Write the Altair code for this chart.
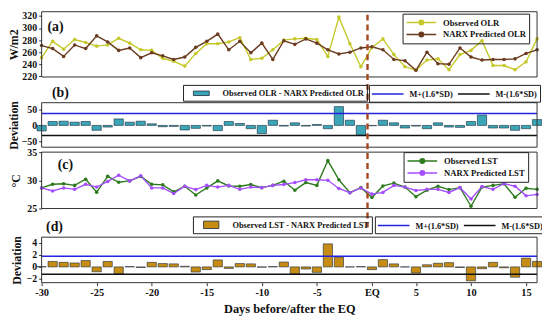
import altair as alt
import pandas as pd

# ---------------- data ----------------
idx = list(range(46))
tick_pos = [0, 5, 10, 15, 20, 25, 30, 34, 39, 44]
tick_lab = ["-30", "-25", "-20", "-15", "-10", "-5", "EQ", "5", "10", "15"]

obs_olr = [251, 278, 265, 281, 276, 270, 272, 283, 275, 264,
           263, 250, 245, 237, 258, 274, 274, 277, 284, 248,
           250, 264, 280, 282, 283, 281, 253, 318, 274, 236,
           268, 282, 256, 236, 230, 247, 249, 231, 256, 263,
           279, 238, 238, 231, 244, 282]
pred_olr = [271, 266, 253, 272, 266, 287, 277, 263, 267, 251,
            259, 254, 248, 252, 268, 278, 290, 264, 278, 259,
            275, 248, 279, 273, 282, 275, 264, 257, 260, 267,
            269, 264, 248, 246, 230, 260, 241, 240, 267, 252,
            247, 248, 248, 249, 258, 264]
dev_olr = [-17, 12, 13, 10, 12, -15, -5, 20, 10, 13,
           5, -4, -3, -14, -9, -2, -16, 12, 6, -10,
           -25, 16, -2, 8, -2, 3, -10, 58, 16, -30,
           -1, 16, 8, -8, -2, -10, 8, -5, -6, 12,
           32, -8, -8, -15, -10, 18]
obs_lst = [28.65, 29.3, 29.4, 29.1, 30.2, 27.9, 30.7, 29.65, 29.9, 30.7,
           29.3, 29.2, 27.95, 28.95, 27.4, 28.65, 29.9, 29.0, 28.95, 29.25,
           28.7, 29.1, 29.85, 28.25, 29.6, 29.1, 33.5, 30.1, 27.8, 28.7,
           26.95, 29.0, 29.5, 28.8, 27.1, 28.25, 28.95, 28.35, 28.7, 25.4,
           28.8, 29.1, 29.4, 27.0, 28.6, 28.4]
pred_lst = [28.65, 28.1, 28.65, 28.4, 29.3, 28.8, 29.8, 30.9, 29.9, 30.8,
            28.65, 28.65, 27.65, 28.95, 28.35, 29.1, 28.8, 29.1, 28.4, 28.8,
            28.7, 29.1, 29.25, 29.6, 30.1, 30.1, 30.0, 28.55, 27.8, 28.65,
            27.55, 27.85, 29.1, 28.8, 28.2, 28.4, 28.4, 27.85, 28.7, 26.7,
            28.9, 28.4, 29.4, 28.95, 27.25, 27.5]
dev_lst = [0.05, 0.9, 0.75, 0.65, 1.05, -0.8, 0.9, -1.1, 0.05, -0.1,
           0.75, 0.55, 0.5, 0.1, -0.85, -0.45, 1.15, -0.25, 0.55, 0.5,
           -0.05, 0.05, 0.8, -1.15, -0.35, -0.9, 3.8, 1.6, 0.0, 0.05,
           -0.45, 1.2, 0.5, 0.0, -1.0, 0.35, 0.6, 0.7, -0.1, -2.3,
           -0.3, 0.75, -0.15, -1.7, 1.45, 0.9]
olr_limits = [37, -31]
lst_limits = [1.76, -1.23]
eq_pos = 29.6

olr_series = ["Observed OLR", "NARX Predicted OLR"]
lst_series = ["Observed LST", "NARX Predicted LST"]
lim_names = ["M+(1.6*SD)", "M-(1.6*SD)"]
olr_bar_name = "Observed OLR - NARX Predicted OLR"
lst_bar_name = "Observed LST - NARX Predicted LST"

# ---------------- style ----------------
FONT = "Liberation Serif"
W, H = 501, 274
YEL, BRN = "#c5c82a", "#6b3b1f"
GRN, PUR = "#2e7b1f", "#a64dff"
TEAL, GOLD = "#3aa6b8", "#c68c14"
BLUE, BLACK = "#2323e0", "#111111"
FRAME = "#333333"
LEG_FS = 8.7
BAR_LEG_FS = 8.4

lab_expr = "''"
for p, l in reversed(list(zip(tick_pos, tick_lab))):
    lab_expr = f"datum.value == {p} ? '{l}' : ({lab_expr})"

x_scale = alt.Scale(domain=[0, 45], nice=False, zero=False)
x_axis = alt.Axis(values=tick_pos, labelExpr=lab_expr, title="Days before/after the EQ",
                  grid=False, domain=False, tickSize=3, tickColor=FRAME,
                  labelFont=FONT, labelFontWeight="bold", labelFontSize=10.5,
                  labelColor="#111", labelPadding=2, labelFlush=False,
                  titleFont=FONT, titleFontWeight="bold", titleFontSize=12.5,
                  titleColor="#111", titlePadding=5)


def xf(field):
    return alt.X(f"{field}:Q", scale=x_scale, axis=x_axis)


def y_axis(vals, title, tx):
    return alt.Axis(orient="left", values=vals, title=title, titleX=tx, grid=False,
                    domain=False, tickSize=3, tickColor=FRAME, labelFont=FONT,
                    labelFontWeight="bold", labelFontSize=10, labelColor="#111",
                    labelPadding=2, titleFont=FONT, titleFontWeight="bold",
                    titleFontSize=12, titleColor="#111")


one = pd.DataFrame({"k": [0]})


def frame(dom, yscale):
    return alt.Chart(one).mark_rect(fillOpacity=0, stroke=FRAME, strokeWidth=1).encode(
        x=alt.X(datum=0, scale=x_scale, axis=x_axis), x2=alt.X2(datum=45),
        y=alt.Y(datum=dom[0], scale=yscale), y2=alt.Y2(datum=dom[1]))


def line_legend(lx, ly):
    return alt.Legend(orient="none", legendX=lx, legendY=ly, title=None,
                      symbolType="M-3,0H3M0.45,0A0.45,0.45,0,1,1,-0.45,0A0.45,0.45,0,1,1,0.45,0Z",
                      symbolSize=100, symbolStrokeWidth=1.5, symbolOffset=10,
                      labelOffset=16, labelFont=FONT, labelFontWeight="bold",
                      labelFontSize=LEG_FS, labelColor="#111", labelLimit=300,
                      strokeColor="#222", padding=3, rowPadding=0)


def line_panel(obs, pred, names, colors, dom, rng, ticks, title, tx, lx, ly):
    df = pd.DataFrame({"i": idx * 2, "v": obs + pred,
                       "s": [names[0]] * len(obs) + [names[1]] * len(pred)})
    ys = alt.Scale(domain=dom, range=rng, nice=False, zero=False)
    col = alt.Color("s:N", scale=alt.Scale(domain=names, range=colors),
                    legend=line_legend(lx, ly))
    base = alt.Chart(df).encode(x=xf("i"),
                                y=alt.Y("v:Q", scale=ys, axis=y_axis(ticks, title, tx)),
                                color=col)
    lines = base.mark_line(strokeWidth=1.4)
    pts = base.mark_point(filled=True, size=13, opacity=1)
    return alt.layer(lines, pts, frame(dom, ys))


def bar_panel(dev, limits, bar_name, bar_col, dom, rng, ticks, tx, lx1, lx2, ly, patch):
    df = pd.DataFrame({"i": idx, "d": dev, "c": [bar_name] * len(dev)})
    ys = alt.Scale(domain=dom, range=rng, nice=False, zero=False)
    leg1 = alt.Legend(orient="none", legendX=lx1, legendY=ly, title=None,
                      symbolType=patch, symbolSize=100, symbolStrokeColor="#1a2a3a",
                      symbolStrokeWidth=0.8, symbolOffset=10, labelOffset=16,
                      labelFont=FONT, labelFontWeight="bold", labelFontSize=BAR_LEG_FS,
                      labelColor="#111", labelLimit=300, strokeColor="#222", padding=3)
    leg2 = alt.Legend(orient="none", legendX=lx2, legendY=ly, title=None,
                      direction="horizontal", symbolType="M-3.2,0H3.2", symbolSize=100,
                      symbolStrokeWidth=1.5, symbolOffset=10, labelOffset=16,
                      columnPadding=2, labelFont=FONT, labelFontWeight="bold",
                      labelFontSize=BAR_LEG_FS, labelColor="#111", labelLimit=300,
                      strokeColor="#222", padding=3)
    bars = alt.Chart(df).transform_calculate(
        x0="datum.i - 0.42", x1="datum.i + 0.42"
    ).mark_rect(stroke="#1a2a3a", strokeWidth=0.6).encode(
        x=xf("x0"), x2="x1:Q",
        y=alt.Y("d:Q", scale=ys, axis=y_axis(ticks, "Deviation", tx)),
        y2=alt.Y2(datum=0),
        fill=alt.Fill("c:N", scale=alt.Scale(domain=[bar_name], range=[bar_col]), legend=leg1))
    lim_df = pd.DataFrame({"t": limits, "c": lim_names})
    rules = alt.Chart(lim_df).mark_rule(strokeWidth=1.5).encode(
        y=alt.Y("t:Q", scale=ys),
        stroke=alt.Stroke("c:N", scale=alt.Scale(domain=lim_names, range=[BLUE, BLACK]),
                          legend=leg2))
    return alt.layer(bars, rules, frame(dom, ys))


panel_a = line_panel(obs_olr, pred_olr, olr_series, [YEL, BRN], [219, 327], [66, 0],
                     [220, 240, 260, 280, 300, 320], "W/m2", -21, 365, 2)
panel_b = bar_panel(dev_olr, olr_limits, olr_bar_name, TEAL, [-67, 70], [137, 92],
                    [-50, 0, 50], -21, 143, 331, 74, "M-1.6,-0.45H1.6V0.45H-1.6Z")
panel_c = line_panel(obs_lst, pred_lst, lst_series, [GRN, PUR], [25, 35], [199, 142],
                     [25, 30, 35], "°C", -19, 366, 142)
panel_d = bar_panel(dev_lst, lst_limits, lst_bar_name, GOLD, [-2.6, 4.9], [274, 228],
                    [-2, 0, 2, 4], -18, 153, 337, 207, "M-1.55,-0.75H1.55V0.75H-1.55Z")

eq_line = alt.Chart(one).mark_rule(color="#a5461f", strokeWidth=2.4, strokeDash=[6, 4]).encode(
    x=alt.X(datum=eq_pos, scale=x_scale, axis=x_axis), y=alt.value(3), y2=alt.value(218))


def tag(t, px, py):
    return alt.Chart(one).mark_text(text=t, font=FONT, fontWeight="bold", fontSize=14,
                                    color="#111").encode(x=alt.value(px), y=alt.value(py))


chart = alt.layer(
    panel_a, panel_b, panel_c, panel_d, eq_line,
    tag("(a)", 14, 15), tag("(b)", 19, 82), tag("(c)", 24, 155), tag("(d)", 13, 218)
).resolve_scale(
    y="independent", color="independent", fill="independent", stroke="independent"
).resolve_axis(y="independent").properties(
    width=W, height=H, autosize=alt.AutoSizeParams(type="none"),
    padding={"left": 34, "top": 2, "right": 5, "bottom": 36}
).configure_view(strokeWidth=0)

chart.save("out.html", embed_options={"renderer": "svg", "actions": False})
